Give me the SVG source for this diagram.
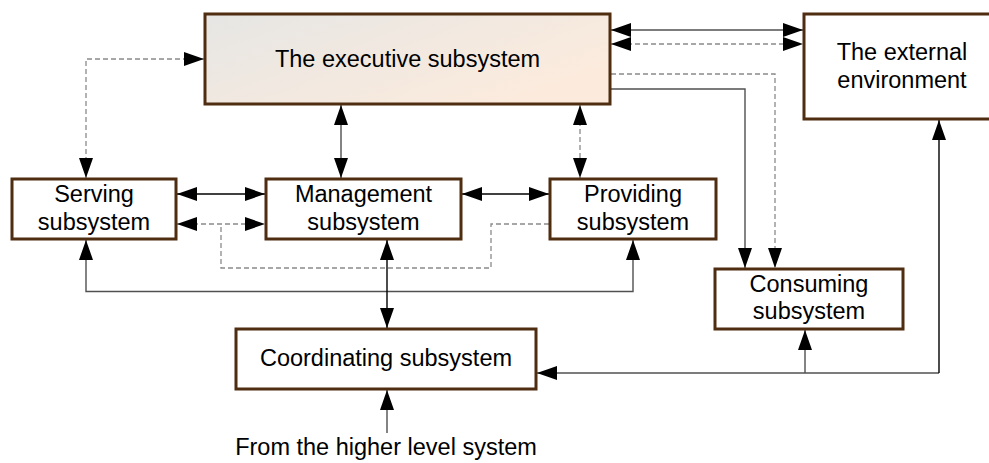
<svg xmlns="http://www.w3.org/2000/svg" width="989" height="463" viewBox="0 0 989 463">
<style>
.box{fill:#fff;stroke:#4f2d10;stroke-width:3}
.lbl{font-family:"Liberation Sans",Arial,sans-serif;font-size:23.5px;fill:#000;text-anchor:middle}
.sol{fill:none;stroke:#505050;stroke-width:1.4}
.solk{fill:none;stroke:#000;stroke-width:1.4}
.dsh{fill:none;stroke:#8a8a8a;stroke-width:1.3;stroke-dasharray:5,3}
</style>
<defs>
<linearGradient id="execGrad" x1="0" y1="0" x2="1" y2="0.6">
<stop offset="0" stop-color="#e6e6e4"/>
<stop offset="1" stop-color="#fcebdd"/>
</linearGradient>
<marker id="arr" viewBox="0 0 20 14" markerUnits="userSpaceOnUse" markerWidth="20" markerHeight="14" refX="20" refY="7" orient="auto-start-reverse">
<path d="M0,0 L20,7 L0,14 z" fill="#000"/>
</marker>
</defs>
<rect width="989" height="463" fill="#fff"/>
<g id="connectors">
<path id="c-serv-exec" class="dsh" d="M86,178 V59 H204" marker-start="url(#arr)" marker-end="url(#arr)"/>
<path id="c-serv-mgmt" class="solk" d="M177,194 H265" marker-start="url(#arr)" marker-end="url(#arr)"/>
<path id="c-serv-mgmt-d" class="dsh" d="M177,224 H265" marker-start="url(#arr)" marker-end="url(#arr)"/>
<path id="c-loop" class="dsh" d="M549,224 H491 V268 H221 V224"/>
<path id="c-exec-mgmt" class="sol" d="M341,105 V178" marker-start="url(#arr)" marker-end="url(#arr)"/>
<path id="c-mgmt-prov" class="solk" d="M462,194 H549" marker-start="url(#arr)" marker-end="url(#arr)"/>
<path id="c-exec-prov" class="dsh" d="M580,105 V178" marker-start="url(#arr)" marker-end="url(#arr)"/>
<path id="c-exec-ext" class="sol" d="M611,30 H803" marker-start="url(#arr)" marker-end="url(#arr)"/>
<path id="c-exec-ext-d" class="dsh" d="M611,44 H803" marker-start="url(#arr)" marker-end="url(#arr)"/>
<path id="c-exec-cons-d" class="dsh" d="M611,74 H775 V268" marker-end="url(#arr)"/>
<path id="c-exec-cons" class="sol" d="M611,89 H745 V268" marker-end="url(#arr)"/>
<path id="c-serv-prov" class="sol" d="M86,240 V291.5 H633 V240" marker-start="url(#arr)" marker-end="url(#arr)"/>
<path id="c-mgmt-coord" class="solk" d="M387,240 V328" marker-start="url(#arr)" marker-end="url(#arr)"/>
<path id="c-fb-coord" class="sol" d="M939,373 H537" marker-end="url(#arr)"/>
<path id="c-fb-ext" class="solk" d="M939,373 V120" marker-end="url(#arr)"/>
<path id="c-fb-cons" class="sol" d="M805,373 V330" marker-end="url(#arr)"/>
<path id="c-higher" class="sol" d="M387,433 V390" marker-end="url(#arr)"/>
</g>
<g id="exec">
<rect x="205" y="14" width="405" height="90" fill="url(#execGrad)" stroke="#4f2d10" stroke-width="3"/>
<text class="lbl" x="407.5" y="67">The executive subsystem</text>
</g>
<g id="external">
<rect class="box" x="804" y="14" width="200" height="105"/>
<text class="lbl" x="902" y="60">The external</text>
<text class="lbl" x="902" y="88">environment</text>
</g>
<g id="serving">
<rect class="box" x="12" y="179" width="164" height="60"/>
<text class="lbl" x="94" y="202">Serving</text>
<text class="lbl" x="94" y="230">subsystem</text>
</g>
<g id="management">
<rect class="box" x="266" y="179" width="195" height="60"/>
<text class="lbl" x="363.5" y="202">Management</text>
<text class="lbl" x="363.5" y="230">subsystem</text>
</g>
<g id="providing">
<rect class="box" x="550" y="179" width="166" height="60"/>
<text class="lbl" x="633" y="202">Providing</text>
<text class="lbl" x="633" y="230">subsystem</text>
</g>
<g id="consuming">
<rect class="box" x="715" y="269" width="188" height="60"/>
<text class="lbl" x="809" y="292">Consuming</text>
<text class="lbl" x="809" y="319">subsystem</text>
</g>
<g id="coordinating">
<rect class="box" x="236" y="329" width="300" height="60"/>
<text class="lbl" x="386" y="366">Coordinating subsystem</text>
</g>
<g id="higher">
<text class="lbl" x="386" y="455">From the higher level system</text>
</g>
</svg>
